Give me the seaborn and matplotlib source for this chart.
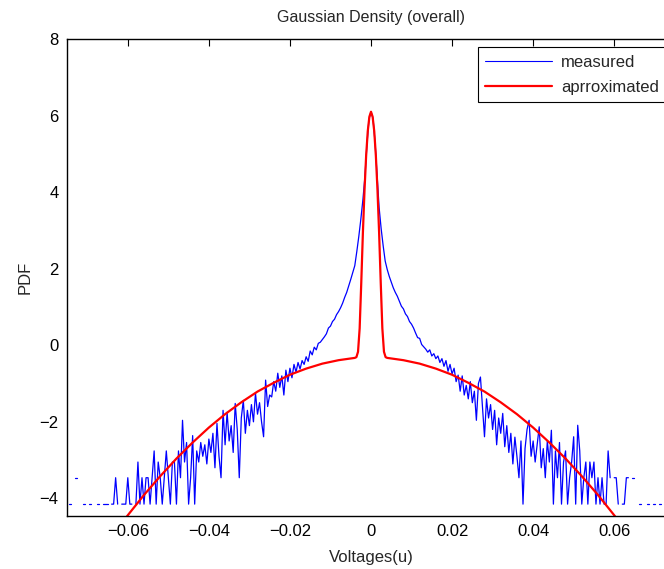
import numpy as np
import pandas as pd
import matplotlib
matplotlib.use("Agg")
import matplotlib.pyplot as plt
from matplotlib.lines import Line2D
import seaborn as sns

nan = np.nan

# measured log-density, one value per 0.0005 bin from -0.075 to 0.075 (nan = empty bin)
measured = [
    nan, -4.15, -4.15, nan, -3.46, -3.46, nan, nan, -4.15, -4.15,
    nan, -4.15, -4.15, nan, nan, -4.15, -4.15, nan, -4.15, -4.15,
    -4.15, nan, -4.15, -4.15, -3.46, -4.15, nan, -4.15, -4.15, -4.15,
    -3.46, -4.15, -4.15, nan, -4.15, -3.05, -4.15, -3.46, -4.15, -3.46,
    -3.46, -4.15, -3.46, -2.76, -4.15, -3.05, -3.46, -4.15, -3.46, -2.76,
    -3.46, -4.15, -3.05, -3.05, -4.15, -2.76, -3.46, -1.96, -3.05, -2.54,
    -4.15, -3.46, -2.36, -4.15, -2.76, -3.05, -2.54, -2.9, -2.6, -3.1,
    -2.45, -2.8, -2.3, -3.2, -2.04, -2.9, -3.46, -1.7, -2.6, -1.75,
    -2.5, -2.1, -2.8, -1.52, -2.2, -3.46, -1.9, -1.44, -2.3, -1.7,
    -2.1, -1.55, -2.0, -1.25, -1.8, -1.5, -2.0, -2.39, -0.91, -1.6,
    -1.3, -1.35, -0.95, -1.2, -0.73, -1.1, -0.8, -1.3, -0.65, -0.95,
    -0.6, -0.85, -0.5, -0.7, -0.45, -0.62, -0.4, -0.5, -0.3, -0.42,
    -0.15, -0.25, -0.05, -0.12, 0.05, 0.08, 0.15, 0.22, 0.3, 0.45,
    0.5, 0.62, 0.68, 0.8, 0.88, 0.98, 1.1, 1.25, 1.38, 1.55,
    1.72, 1.9, 2.08, 2.45, 2.85, 3.3, 3.8, 4.4, 5.25, 5.9,
    6.1, 5.92, 5.3, 4.45, 3.6, 3.05, 2.6, 2.2, 1.98, 1.8,
    1.65, 1.5, 1.38, 1.28, 1.15, 1.02, 0.95, 0.82, 0.75, 0.62,
    0.55, 0.45, 0.32, 0.2, 0.18, 0.02, -0.04, -0.1, -0.18, -0.12,
    -0.28, -0.22, -0.35, -0.28, -0.45, -0.35, -0.55, -0.4, -0.68, -0.5,
    -0.75, -0.6, -0.95, -0.78, -1.2, -0.8, -1.3, -1.05, -1.4, -0.95,
    -1.5, -1.2, -1.96, -1.0, -0.83, -1.6, -2.39, -1.4, -1.9, -1.55,
    -2.2, -1.7, -2.6, -1.9, -2.3, -1.78, -2.65, -2.1, -2.8, -2.3,
    -3.1, -2.4, -2.9, -3.46, -2.5, -4.15, -2.7, -2.2, -1.96, -2.9,
    -2.5, -3.05, -2.6, -2.13, -3.2, -2.7, -3.46, -2.5, -3.05, -2.22,
    -4.15, -2.76, -3.46, -2.54, -4.15, -3.05, -2.76, -4.15, -3.46, -3.05,
    -2.39, -4.15, -2.09, -2.76, -4.15, -3.46, -3.05, -4.15, -3.05, -3.46,
    -3.05, -4.15, -3.46, -4.15, -3.46, -4.15, -4.15, -2.76, -3.46, nan,
    -3.46, -3.46, -4.15, nan, -4.15, -4.15, -3.46, -3.46, nan, -3.46,
    -3.46, nan, -4.15, -4.15, nan, nan, -4.15, -4.15, nan, -4.15,
    -4.15, nan, -4.15, -4.15, nan, nan, nan, nan, nan, nan,
    nan,
]
bin_start = -0.075
bin_width = 0.0005

# approximated curve
approx_x = [-0.064, -0.060, -0.056, -0.052, -0.048, -0.044, -0.040, -0.036,
            -0.032, -0.028, -0.024, -0.020, -0.016, -0.012, -0.008, -0.0040,
            -0.0036, -0.0032, -0.0028, -0.0024, -0.0020, -0.0016, -0.0012,
            -0.0008, -0.0004, 0.0,
            0.0004, 0.0008, 0.0012, 0.0016, 0.0020, 0.0024, 0.0028, 0.0032,
            0.0036, 0.0040, 0.008, 0.012, 0.016, 0.020, 0.024, 0.028, 0.032,
            0.036, 0.040, 0.044, 0.048, 0.052, 0.056, 0.060, 0.064]
approx_y = [-5.01, -4.44, -3.91, -3.42, -2.96, -2.54, -2.15, -1.80,
            -1.49, -1.21, -0.98, -0.77, -0.61, -0.48, -0.39, -0.33,
            -0.31, -0.17, 0.44, 1.64, 2.94, 4.05, 4.95,
            5.59, 5.97, 6.10,
            5.97, 5.59, 4.95, 4.05, 2.94, 1.64, 0.44, -0.17,
            -0.31, -0.33, -0.39, -0.48, -0.61, -0.77, -0.98, -1.21, -1.49,
            -1.80, -2.15, -2.54, -2.96, -3.42, -3.91, -4.44, -5.01]

xticks = [-0.06, -0.04, -0.02, 0, 0.02, 0.04, 0.06]
xtick_labels = ["\u22120.06", "\u22120.04", "\u22120.02", "0", "0.02", "0.04", "0.06"]
yticks = [-4, -2, 0, 2, 4, 6, 8]
ytick_labels = ["\u22124", "\u22122", "0", "2", "4", "6", "8"]

assert len(measured) == 301

# break the measured line wherever a bin is empty
meas = pd.DataFrame({"Voltage": bin_start + bin_width * np.arange(len(measured)),
                     "PDF": measured})
meas["seg"] = meas["PDF"].isna().cumsum()
meas = meas.dropna()
approx = pd.DataFrame({"Voltage": approx_x, "PDF": approx_y})

sns.set_style("white")
plt.rcParams["font.family"] = ["Liberation Sans", "DejaVu Sans"]
fs = 12

fig = plt.figure(figsize=(6.64, 5.69), dpi=100)
ax = fig.add_axes([67 / 664, 53 / 569, 608 / 664, 477 / 569])

sns.lineplot(data=meas, x="Voltage", y="PDF", units="seg", estimator=None,
             color="blue", linewidth=0.9, ax=ax)
sns.lineplot(data=approx, x="Voltage", y="PDF", color="red", linewidth=1.6,
             ax=ax)

ax.set_xlim(-0.075, 0.075)
ax.set_ylim(-4.46, 8)
ax.set_xticks(xticks)
ax.set_xticklabels(xtick_labels)
ax.set_yticks(yticks)
ax.set_yticklabels(ytick_labels)
ax.tick_params(direction="in", length=5, width=0.8, top=True, right=True,
               colors="black", labelsize=fs, pad=6)
for s in ax.spines.values():
    s.set_color("black")
    s.set_linewidth(1.0)

ax.set_title("Gaussian Density (overall)", fontsize=11.5, pad=12)
ax.set_xlabel("Voltages(u)", fontsize=fs, labelpad=8)
ax.set_ylabel("PDF", fontsize=fs, labelpad=5)

handles = [Line2D([], [], color="blue", linewidth=0.8),
           Line2D([], [], color="red", linewidth=1.6)]
leg = ax.legend(handles, ["measured", "aprroximated"], loc="upper right",
                frameon=True, fancybox=False, framealpha=1, edgecolor="black",
                handlelength=4.0, handletextpad=0.55, labelspacing=0.6,
                borderaxespad=0.5, borderpad=0.45, fontsize=fs)
leg.get_frame().set_linewidth(0.8)

fig.savefig("out.png", dpi=100)
